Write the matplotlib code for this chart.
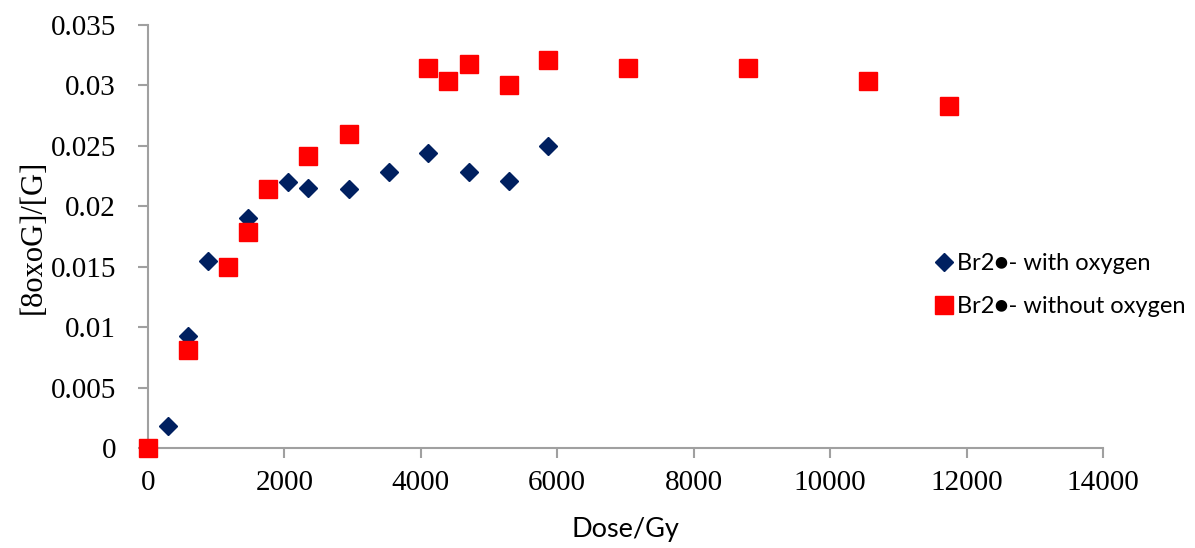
import matplotlib
matplotlib.use("Agg")
import matplotlib.pyplot as plt
from matplotlib.lines import Line2D

# Br2- with oxygen
dose_ox = [300, 590, 880, 1470, 2060, 2350, 2940, 3530, 4110, 4700, 5290, 5870]
ratio_ox = [0.0018, 0.0093, 0.0155, 0.0190, 0.0220, 0.0215, 0.0214, 0.0228, 0.0244, 0.0228, 0.0221, 0.0250]

# Br2- without oxygen
dose_nox = [0, 590, 1170, 1470, 1760, 2350, 2940, 4110, 4400, 4700, 5290, 5870, 7040, 8800, 10560, 11740]
ratio_nox = [0.0, 0.0081, 0.0150, 0.0179, 0.0214, 0.0242, 0.0260, 0.0314, 0.0304, 0.0318, 0.0300, 0.0321,
             0.0314, 0.0314, 0.0304, 0.0283]

labels = ["Br2\u25cf- with oxygen", "Br2\u25cf- without oxygen"]
xticks = [0, 2000, 4000, 6000, 8000, 10000, 12000, 14000]
yticks = [0, 0.005, 0.01, 0.015, 0.02, 0.025, 0.03, 0.035]
ytick_labels = ["0", "0.005", "0.01", "0.015", "0.02", "0.025", "0.03", "0.035"]

navy = "#002060"
red = "#FF0000"
gray = "#A0A0A0"
serif = "Liberation Serif"
sans = ["Lato", "DejaVu Sans"]

fig = plt.figure(figsize=(11.95, 5.48), dpi=100)
ax = fig.add_axes([0.1238, 0.1825, 0.923 - 0.1238, 0.9544 - 0.1825])

ax.plot(dose_ox, ratio_ox, linestyle="none", marker="D", markersize=9.5,
        color=navy, clip_on=False, zorder=3)
ax.plot(dose_nox, ratio_nox, linestyle="none", marker="s", markersize=13.5,
        color=red, clip_on=False, zorder=3)

ax.set_xlim(0, 14000)
ax.set_ylim(0, 0.035)
ax.set_xticks(xticks)
ax.set_xticklabels([str(v) for v in xticks], fontfamily=serif, fontsize=21)
ax.set_yticks(yticks)
ax.set_yticklabels(ytick_labels, fontfamily=serif, fontsize=21)

for s in ["top", "right"]:
    ax.spines[s].set_visible(False)
for s in ["left", "bottom"]:
    ax.spines[s].set_color(gray)
    ax.spines[s].set_linewidth(1.5)
ax.tick_params(axis="both", direction="out", length=7, width=1.5, color=gray)
ax.tick_params(axis="y", pad=16)
ax.tick_params(axis="x", pad=9)

ax.set_xlabel("Dose/Gy", fontfamily=sans, fontsize=19.5, labelpad=15)
ax.set_ylabel("[8oxoG]/[G]", fontfamily=serif, fontsize=22, labelpad=2)

handles = [
    Line2D([], [], linestyle="none", marker="D", markersize=9.5, color=navy),
    Line2D([], [], linestyle="none", marker="s", markersize=13.5, color=red),
]
leg = ax.legend(handles, labels, loc="center left", bbox_to_anchor=(0.809, 0.385),
                frameon=False, borderpad=0, handletextpad=0.05, labelspacing=0.95,
                handlelength=1.0, prop={"family": sans, "size": 17})

fig.savefig("out.png", dpi=100)
